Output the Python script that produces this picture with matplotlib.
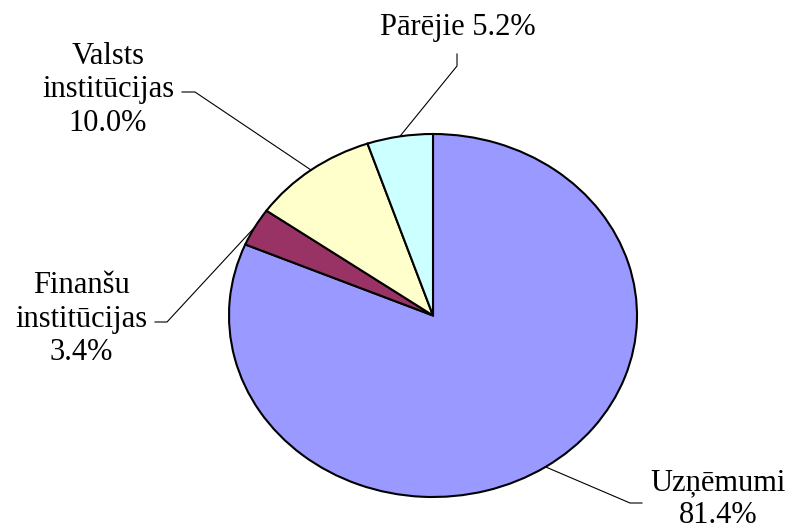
import numpy as np
import matplotlib
matplotlib.use('Agg')
import matplotlib.pyplot as plt
from matplotlib.lines import Line2D

# data
labels = ['Uzņēmumi', 'Finanšu\ninstitūcijas', 'Valsts\ninstitūcijas', 'Pārējie']
values = [81.4, 3.4, 10.0, 5.2]
colors = ['#9999FF', '#993366', '#FFFFCC', '#CCFFFF']

plt.rcParams['font.family'] = ['Liberation Serif', 'DejaVu Serif']

W, H = 796, 532
fig = plt.figure(figsize=(W / 100, H / 100), dpi=100)
ax = fig.add_axes([229 / W, (H - 497) / H, 408 / W, 363 / H])

wedges, _ = ax.pie(values, colors=colors, startangle=90, counterclock=False,
                   wedgeprops=dict(edgecolor='black', linewidth=1.5))
for w in wedges:
    w.set_clip_on(False)
ax.set_aspect('auto')
ax.set_xlim(-1, 1)
ax.set_ylim(-1, 1)
ax.axis('off')

# label layout: text centre, elbow points (image pixels, y down)
layout = [
    dict(text=(718, 499), path=[(642, 503), (630, 503)], fmt='{}\n{:.1f}%'),
    dict(text=(81, 319), path=[(155, 322), (167, 322)], fmt='{}\n{:.1f}%'),
    dict(text=(108, 90), path=[(182, 92), (195, 92)], fmt='{}\n{:.1f}%'),
    dict(text=(458, 28), path=[(457, 54), (457, 66)], fmt='{} {:.1f}%'),
]

fig.canvas.draw()
tr = ax.transData
for w, lab, val, lay in zip(wedges, labels, values, layout):
    th = np.deg2rad((w.theta1 + w.theta2) / 2)
    ax_pt = tr.transform((np.cos(th), np.sin(th)))
    pts = [(x, H - y) for x, y in lay['path']] + [tuple(ax_pt)]
    xs, ys = zip(*pts)
    fig.add_artist(Line2D(np.array(xs) / W, np.array(ys) / H, color='black',
                          lw=0.8, transform=fig.transFigure))
    fig.text(lay['text'][0] / W, (H - lay['text'][1]) / H, lay['fmt'].format(lab, val),
             ha='center', va='center', ma='center', fontsize=22, linespacing=1.2)

fig.savefig('out.png', dpi=100)
